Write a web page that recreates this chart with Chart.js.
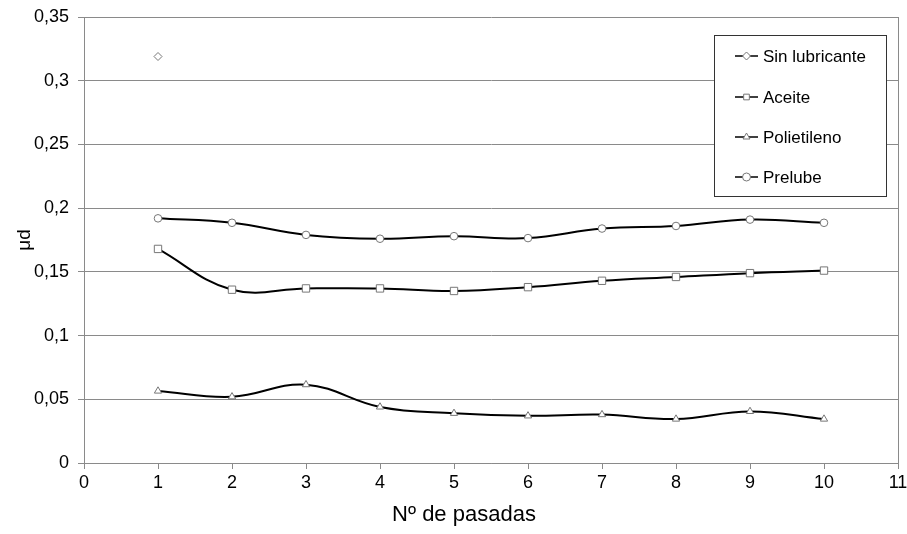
<!DOCTYPE html>
<html>
<head>
<meta charset="utf-8">
<script src="https://cdn.jsdelivr.net/npm/chart.js@4/dist/chart.umd.min.js"></script>
<style>
  html, body { margin: 0; padding: 0; background: #fff; }
  #wrap { width: 907px; height: 534px; }
</style>
</head>
<body>
<div id="wrap"><canvas id="chart"></canvas></div>
<script>
// Data
const passes = [1, 2, 3, 4, 5, 6, 7, 8, 9, 10];
const sinLubricante = [0.319, null, null, null, null, null, null, null, null, null];
const aceite = [0.168, 0.136, 0.137, 0.137, 0.135, 0.138, 0.143, 0.146, 0.149, 0.151];
const polietileno = [0.0565, 0.052, 0.0615, 0.044, 0.039, 0.037, 0.038, 0.0345, 0.0405, 0.0345];
const prelube = [0.192, 0.1885, 0.179, 0.176, 0.178, 0.1765, 0.184, 0.186, 0.191, 0.1885];
const seriesNames = ['Sin lubricante', 'Aceite', 'Polietileno', 'Prelube'];
const xTicks = [0, 1, 2, 3, 4, 5, 6, 7, 8, 9, 10, 11];
const yTicks = [0, 0.05, 0.1, 0.15, 0.2, 0.25, 0.3, 0.35];

const FONT = '"Liberation Sans", Arial, sans-serif';
const GRID = '#8a8a8a';

const toPoints = vals => passes.map((p, i) => ({ x: p, y: vals[i] }));

function makeSet(label, vals, style, radius) {
    return {
        label: label,
        data: toPoints(vals),
        borderColor: '#000',
        borderWidth: 2,
        tension: 0.4,
        pointStyle: style,
        pointRadius: radius,
        pointBorderColor: '#777',
        pointBackgroundColor: '#fff',
        pointBorderWidth: 1,
        spanGaps: false
    };
}

// Legend drawn inside the plot, in a framed box
const legendRows = [56, 97, 137, 177];
const boxLegend = {
    id: 'boxLegend',
    afterDraw(chart) {
        const ctx = chart.ctx;
        ctx.save();
        ctx.fillStyle = '#fff';
        ctx.fillRect(714.5, 35.5, 172, 161);
        ctx.strokeStyle = '#333';
        ctx.lineWidth = 1;
        ctx.strokeRect(714.5, 35.5, 172, 161);
        ctx.font = '17px ' + FONT;
        ctx.textBaseline = 'middle';
        chart.data.datasets.forEach((ds, i) => {
            const y = legendRows[i];
            ctx.strokeStyle = '#000';
            ctx.lineWidth = 1.5;
            ctx.beginPath();
            ctx.moveTo(735, y);
            ctx.lineTo(758, y);
            ctx.stroke();
            ctx.fillStyle = '#fff';
            ctx.strokeStyle = '#777';
            ctx.lineWidth = 1;
            Chart.helpers.drawPoint(ctx, { pointStyle: ds.pointStyle, radius: 4, borderWidth: 1, rotation: 0 }, 746.5, y);
            ctx.fillStyle = '#000';
            ctx.fillText(ds.label, 763, y + 1);
        });

        // x axis title, a bit left of centre like the original
        ctx.font = '22px ' + FONT;
        ctx.textAlign = 'center';
        ctx.fillStyle = '#000';
        ctx.fillText('Nº de pasadas', 464, 515);
        ctx.restore();
    }
};

new Chart(document.getElementById('chart'), {
    type: 'line',
    data: {
        datasets: [
            makeSet(seriesNames[0], sinLubricante, 'rectRot', 4),
            makeSet(seriesNames[1], aceite, 'rect', 5.2),
            makeSet(seriesNames[2], polietileno, 'triangle', 4.2),
            makeSet(seriesNames[3], prelube, 'circle', 3.8)
        ]
    },
    options: {
        responsive: true,
        maintainAspectRatio: false,
        animation: false,
        layout: { padding: { top: 17, right: 9, left: 0, bottom: 0 } },
        plugins: {
            legend: { display: false },
            tooltip: { enabled: false }
        },
        scales: {
            x: {
                type: 'linear',
                min: xTicks[0],
                max: xTicks[xTicks.length - 1],
                afterBuildTicks: s => { s.ticks = xTicks.map(v => ({ value: v })); },
                afterFit: s => { s.height = 71; s.paddingLeft = 0; s.paddingRight = 0; },
                ticks: { color: '#000', font: { family: FONT, size: 18 }, padding: 3, maxRotation: 0 },
                grid: {
                    color: c => (c.tick && c.tick.value === 11) ? GRID : 'rgba(0,0,0,0)',
                    tickColor: GRID,
                    tickLength: 6
                },
                border: { color: GRID, width: 1 }
            },
            y: {
                min: yTicks[0],
                max: yTicks[yTicks.length - 1],
                afterBuildTicks: s => { s.ticks = yTicks.map(v => ({ value: v })); },
                afterFit: s => { s.width = 84; s.paddingTop = 0; s.paddingBottom = 0; },
                ticks: {
                    color: '#000',
                    font: { family: FONT, size: 18 },
                    padding: 9,
                    callback: v => String(Math.round(v * 100) / 100).replace('.', ',')
                },
                grid: { color: GRID, tickColor: GRID, tickLength: 6 },
                border: { color: GRID, width: 1 },
                title: {
                    display: true,
                    text: 'μd',
                    color: '#000',
                    font: { family: FONT, size: 19 },
                    padding: { top: 13, bottom: 0 }
                }
            }
        }
    },
    plugins: [boxLegend]
});
</script>
</body>
</html>
